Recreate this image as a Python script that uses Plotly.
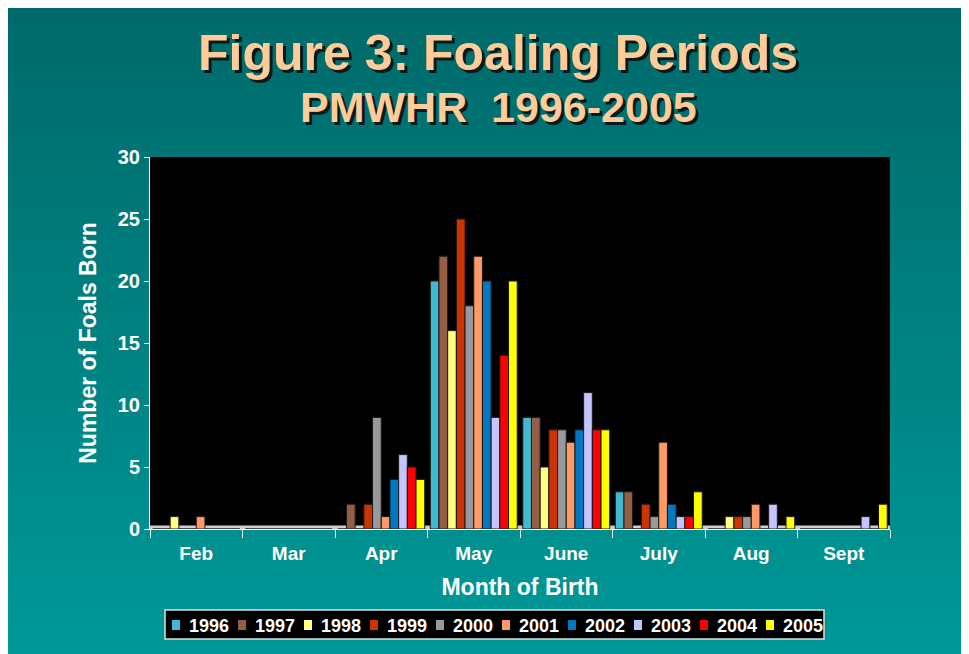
import plotly.graph_objects as go

months = ["Feb", "Mar", "Apr", "May", "June", "July", "Aug", "Sept"]
years = ["1996", "1997", "1998", "1999", "2000", "2001", "2002", "2003", "2004", "2005"]

foals_1996 = [0, 0, 0, 20, 9, 3, 0, 0]
foals_1997 = [0, 0, 2, 22, 9, 3, 0, 0]
foals_1998 = [1, 0, 0, 16, 5, 0, 1, 0]
foals_1999 = [0, 0, 2, 25, 8, 2, 1, 0]
foals_2000 = [0, 0, 9, 18, 8, 1, 1, 0]
foals_2001 = [1, 0, 1, 22, 7, 7, 2, 0]
foals_2002 = [0, 0, 4, 20, 8, 2, 0, 0]
foals_2003 = [0, 0, 6, 9, 11, 1, 2, 1]
foals_2004 = [0, 0, 5, 14, 8, 1, 0, 0]
foals_2005 = [0, 0, 4, 20, 8, 3, 1, 2]

series = [foals_1996, foals_1997, foals_1998, foals_1999, foals_2000,
          foals_2001, foals_2002, foals_2003, foals_2004, foals_2005]
colors = ["#40B8D0", "#945E44", "#FFFF80", "#CC3300", "#999999",
          "#FF9966", "#0077C0", "#C4C4FF", "#FF0000", "#FFFF00"]

W, H = 969, 654
L, R, T, B = 142, 87, 149, 133
pw, ph = W - L - R, H - T - B


def px(x):
    return (x - L) / pw


def py(y):
    return (H - B - y) / ph


fig = go.Figure()
for yr, vals, c in zip(years, series, colors):
    fig.add_trace(go.Bar(
        x=months, y=vals, name=yr,
        marker=dict(color=c, line=dict(color="#1A1A1A", width=1)),
        showlegend=False,
    ))

shapes = []
# background gradient via strips
n = 60
x0p, x1p = px(-5), px(W + 5)
y0p, y1p = py(H + 5), py(-5)
top = (0, 0x6A, 0x6A)
bot = (0, 0x99, 0x99)
for i in range(n):
    f = i / (n - 1)
    g_ = int(top[1] + (bot[1] - top[1]) * f)
    b_ = int(top[2] + (bot[2] - top[2]) * f)
    ya = y1p - (y1p - y0p) * i / n
    yb = y1p - (y1p - y0p) * (i + 1) / n - 0.003
    shapes.append(dict(type="rect", xref="paper", yref="paper", x0=x0p, x1=x1p,
                       y0=yb, y1=ya, fillcolor=f"rgb(0,{g_},{b_})",
                       line=dict(width=0), layer="below"))
shapes.append(dict(type="rect", xref="paper", yref="paper", x0=0, x1=1, y0=0, y1=1,
                   fillcolor="black", line=dict(width=0), layer="below"))
shapes.append(dict(type="rect", xref="paper", yref="y", x0=0, x1=1, y0=0, y1=0.28,
                   fillcolor="#D0D0D0", line=dict(width=0), layer="below"))

font = "Liberation Sans, Arial, sans-serif"
annotations = []
tx = px(490)
for txt, ypix, size in [("Figure 3: Foaling Periods", 45, 50), ("PMWHR  1996-2005", 99, 43)]:
    annotations.append(dict(text=txt, x=tx, y=py(ypix), xref="paper", yref="paper",
                            xanchor="center", yanchor="middle", showarrow=False,
                            font=dict(family=font, size=size, color="#FFCC99", weight="bold",
                                      shadow="3px 3px 0px #0A1A1A")))

# manual legend
lg_x0, lg_x1, lg_y0, lg_y1 = 157, 816, 602, 631
shapes.append(dict(type="rect", xref="paper", yref="paper", x0=px(lg_x0), x1=px(lg_x1),
                   y0=py(lg_y1), y1=py(lg_y0), fillcolor="black",
                   line=dict(color="#E0E0E0", width=1.5), layer="above"))
lg_cy = 617
for i, (yr, c) in enumerate(zip(years, colors)):
    sx = 164 + 66 * i
    shapes.append(dict(type="rect", xref="paper", yref="paper", x0=px(sx), x1=px(sx + 8),
                       y0=py(lg_cy + 5), y1=py(lg_cy - 5), fillcolor=c,
                       line=dict(width=0), layer="above"))
    annotations.append(dict(text=yr, x=px(sx + 15), y=py(lg_cy + 1), xref="paper", yref="paper",
                            xanchor="left", yanchor="middle", showarrow=False,
                            font=dict(family=font, size=18, color="white", weight="bold")))

fig.update_layout(
    width=W, height=H,
    margin=dict(l=L, r=R, t=T, b=B),
    paper_bgcolor="#008080",
    plot_bgcolor="black",
    barmode="group",
    bargap=0.06,
    bargroupgap=0,
    shapes=shapes,
    annotations=annotations,
    showlegend=False,
    font=dict(family=font, color="white", weight="bold"),
    xaxis=dict(
        showline=True, linecolor="white", linewidth=1,
        ticks="outside", tickson="boundaries", tickcolor="white", ticklen=8,
        ticklabelstandoff=7,
        tickfont=dict(size=19, color="white", weight="bold"),
        title=dict(text="Month of Birth", font=dict(size=23, color="white", weight="bold"), standoff=16),
        showgrid=False,
    ),
    yaxis=dict(
        range=[0, 30], dtick=5,
        showline=True, linecolor="white", linewidth=1,
        ticks="outside", tickcolor="white", ticklen=5,
        tickfont=dict(size=20, color="white", weight="bold"),
        title=dict(text="Number of Foals Born", font=dict(size=23, color="white", weight="bold"), standoff=14),
        showgrid=False, zeroline=False,
    ),
)

fig.write_html("out.html")
